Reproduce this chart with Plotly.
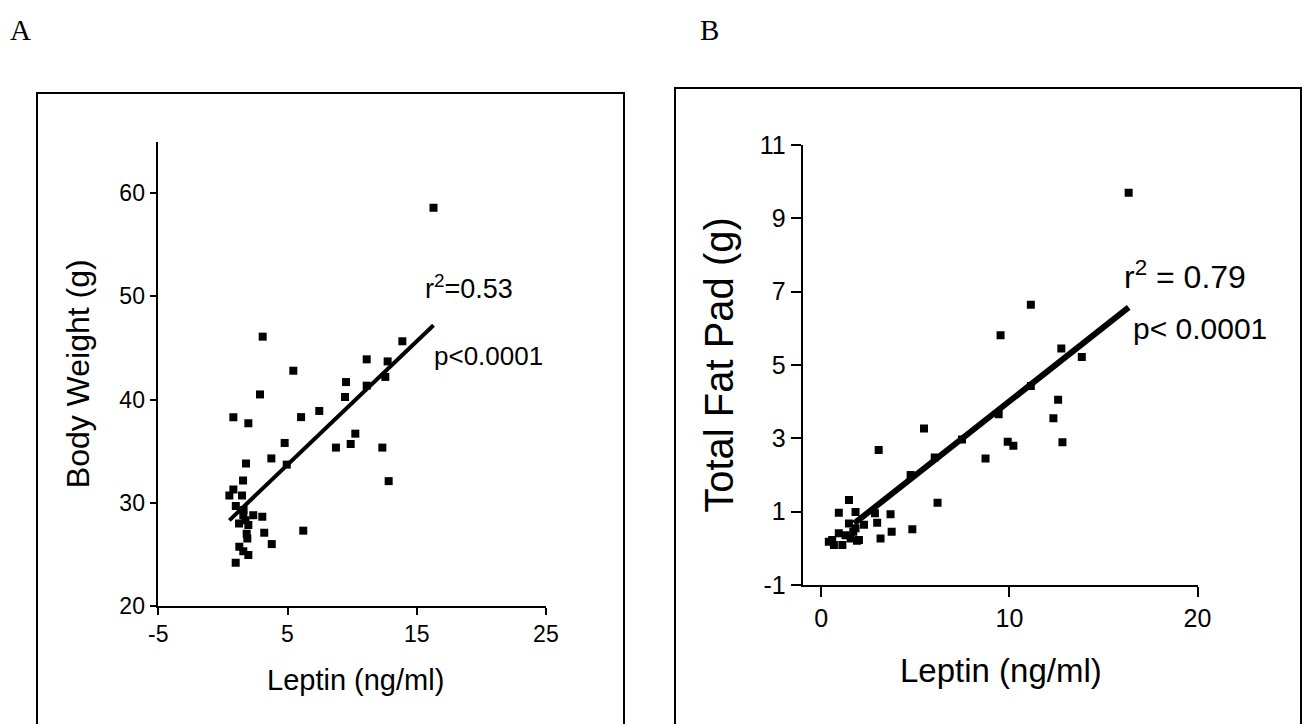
import plotly.graph_objects as go

# ---------------- data ----------------
# Panel A: Leptin (ng/ml) vs Body Weight (g)
a_leptin = [16.3, 3.08, 5.45, 2.87, 0.81, 1.97, 6.05, 7.46, 9.53, 9.45, 11.13, 11.13, 12.75, 12.57,
            13.89, 4.78, 3.75, 1.79, 4.94, 8.75, 9.89, 10.25, 12.34, 12.83, 1.56, 0.81, 0.50, 1.48,
            1.0, 1.58, 2.35, 3.05, 1.25, 1.97, 1.84, 1.89, 3.2, 3.78, 6.22, 1.27, 1.58, 1.97, 0.99,
            1.6, 1.75]
a_weight = [58.6, 46.1, 42.8, 40.5, 38.3, 37.7, 38.3, 38.9, 41.7, 40.25, 43.9, 41.35, 43.7, 42.2,
            45.65, 35.8, 34.3, 33.8, 33.7, 35.35, 35.7, 36.7, 35.35, 32.1, 32.15, 31.3, 30.7, 30.7,
            29.7, 28.8, 28.8, 28.65, 28.0, 27.85, 27.0, 26.55, 27.1, 26.0, 27.3, 25.75, 25.3, 24.95,
            24.2, 29.3, 28.3]
a_fit_x = [0.5, 16.3]
a_fit_y = [28.3, 47.2]

# Panel B: Leptin (ng/ml) vs Total Fat Pad (g)
b_leptin = [16.34, 11.14, 9.53, 12.76, 13.85, 11.14, 12.59, 9.43, 12.34, 5.46, 7.48, 9.91, 10.21,
            12.82, 3.05, 6.03, 8.73, 4.75, 6.18, 1.47, 0.93, 1.82, 2.85, 3.68, 2.97, 3.74, 3.15,
            4.84, 0.58, 0.93, 1.47, 1.82, 2.0, 1.12, 0.67, 1.56, 2.27, 1.29, 0.40, 1.9, 1.7]
b_fat = [9.70, 6.64, 5.81, 5.45, 5.22, 4.43, 4.05, 3.66, 3.55, 3.27, 2.97, 2.91, 2.80,
         2.89, 2.68, 2.48, 2.45, 2.0, 1.24, 1.32, 0.97, 0.99, 0.96, 0.93, 0.70, 0.45, 0.27,
         0.52, 0.23, 0.41, 0.68, 0.55, 0.23, 0.09, 0.09, 0.27, 0.64, 0.36, 0.18, 0.21, 0.45]
b_fit_x = [1.75, 16.34]
b_fit_y = [0.68, 6.57]

a_xticks = [-5, 5, 15, 25]
a_xticktext = ["-5", "5", "15", "25"]
a_yticks = [20, 30, 40, 50, 60]
b_xticks = [0, 10, 20]
b_yticks = [-1, 1, 3, 5, 7, 9, 11]
b_yticktext = ["-1", "1", "3", "5", "7", "9", "11"]

# ---------------- figure ----------------
W, H = 1307, 724
SANS = "Liberation Sans, Arial, sans-serif"
SERIF = "Liberation Serif, Times New Roman, serif"

def px(x):
    return x / W

def py(y):
    return 1 - y / H

fig = go.Figure()

fig.add_trace(go.Scatter(x=a_leptin, y=a_weight, mode="markers", xaxis="x", yaxis="y",
                         marker=dict(symbol="square", size=8, color="black"), showlegend=False))
fig.add_trace(go.Scatter(x=a_fit_x, y=a_fit_y, mode="lines", xaxis="x", yaxis="y",
                         line=dict(color="black", width=4), showlegend=False))
fig.add_trace(go.Scatter(x=b_leptin, y=b_fat, mode="markers", xaxis="x2", yaxis="y2",
                         marker=dict(symbol="square", size=8, color="black"), showlegend=False))
fig.add_trace(go.Scatter(x=b_fit_x, y=b_fit_y, mode="lines", xaxis="x2", yaxis="y2",
                         line=dict(color="black", width=6), showlegend=False))

axis_common = dict(showgrid=False, zeroline=False, showline=True, linecolor="black",
                   linewidth=1.5, ticks="outside", tickcolor="black", tickwidth=1.5,
                   automargin=False)

fig.update_layout(
    width=W, height=H,
    margin=dict(l=0, r=0, t=0, b=0, pad=0),
    paper_bgcolor="white", plot_bgcolor="white",
    xaxis=dict(domain=[px(158.3), px(545.9)], range=[-5, 25], tickvals=a_xticks,
               ticktext=a_xticktext, anchor="y", ticklen=7,
               tickfont=dict(family=SANS, size=23, color="black"),
               **axis_common),
    yaxis=dict(domain=[py(606), py(141.6)], range=[20, 65], tickvals=a_yticks,
               anchor="x", ticklen=7,
               tickfont=dict(family=SANS, size=23, color="black"),
               title=dict(text="Body Weight (g)", font=dict(family=SANS, size=32, color="black"),
                          standoff=20),
               **axis_common),
    xaxis2=dict(domain=[px(802.5), px(1197.5)], range=[-1, 20], tickvals=b_xticks,
                anchor="y2", ticklen=10,
                tickfont=dict(family=SANS, size=25, color="black"),
                **axis_common),
    yaxis2=dict(domain=[py(585), py(145)], range=[-1, 11], tickvals=b_yticks,
                ticktext=b_yticktext, anchor="x2", ticklen=10,
                tickfont=dict(family=SANS, size=25, color="black"),
                title=dict(text="Total Fat Pad (g)", font=dict(family=SANS, size=40, color="black"),
                           standoff=14),
                **axis_common),
)

fig.update_layout(shapes=[
    dict(type="rect", xref="paper", yref="paper", x0=px(37), x1=px(624), y0=-0.2, y1=py(93),
         line=dict(color="black", width=2), fillcolor="rgba(0,0,0,0)"),
    dict(type="rect", xref="paper", yref="paper", x0=px(675), x1=px(1301), y0=-0.2, y1=py(88),
         line=dict(color="black", width=2), fillcolor="rgba(0,0,0,0)"),
])

ann = []
ann.append(dict(text="A", x=px(8), y=py(30), xref="paper", yref="paper", xanchor="left",
                yanchor="middle", showarrow=False, font=dict(family=SERIF, size=29, color="black")))
ann.append(dict(text="B", x=px(698), y=py(30), xref="paper", yref="paper", xanchor="left",
                yanchor="middle", showarrow=False, font=dict(family=SERIF, size=29, color="black")))
ann.append(dict(text="Leptin (ng/ml)", x=px(355), y=py(680), xref="paper", yref="paper",
                xanchor="center", yanchor="middle", showarrow=False,
                font=dict(family=SANS, size=29, color="black")))
ann.append(dict(text="Leptin (ng/ml)", x=px(1001), y=py(670), xref="paper", yref="paper",
                xanchor="center", yanchor="middle", showarrow=False,
                font=dict(family=SANS, size=33, color="black")))
ann.append(dict(text="r<sup>2</sup>=0.53", x=15.5, y=50.9, xref="x", yref="y", xanchor="left",
                yanchor="middle", showarrow=False, font=dict(family=SANS, size=27, color="black")))
ann.append(dict(text="p<0.0001", x=16.2, y=44.2, xref="x", yref="y", xanchor="left",
                yanchor="middle", showarrow=False, font=dict(family=SANS, size=26, color="black")))
ann.append(dict(text="r<sup>2</sup> = 0.79", x=15.97, y=7.45, xref="x2", yref="y2", xanchor="left",
                yanchor="middle", showarrow=False, font=dict(family=SANS, size=32, color="black")))
ann.append(dict(text="p< 0.0001", x=16.45, y=6.0, xref="x2", yref="y2", xanchor="left",
                yanchor="middle", showarrow=False, font=dict(family=SANS, size=30, color="black")))
fig.update_layout(annotations=ann)

fig.write_html("out.html", config={"displayModeBar": False},
               post_script="document.body.style.margin='0';document.body.style.overflow='hidden';")
